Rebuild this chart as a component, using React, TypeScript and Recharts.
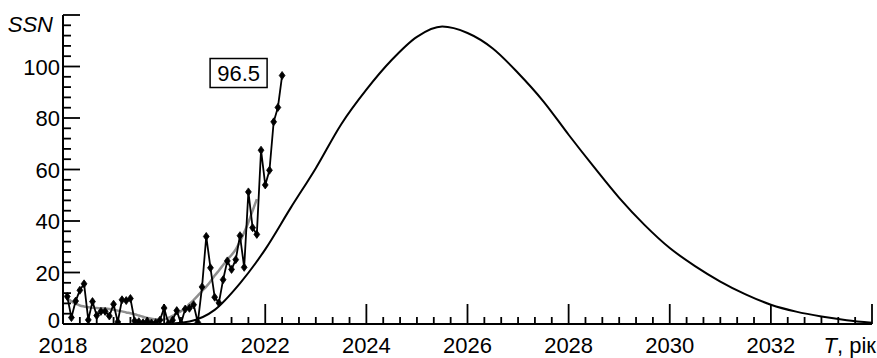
import React from 'react';
import { LineChart, Line, XAxis, YAxis, ReferenceDot } from 'recharts';

// Monthly observed sunspot number, starting February 2018
const observedStartYear = 2018;
const observedStartMonth = 2;
const observedValues = [
  10.7, 2.5, 8.9, 13.1, 15.6, 1.6, 8.7, 3.3, 4.9, 4.9, 3.1,
  7.7, 0.8, 9.4, 9.1, 9.9, 1.2, 0.9, 0.5, 1.1, 0.4, 0.5, 1.5,
  6.2, 0.2, 1.5, 5.2, 0.2, 5.8, 6.1, 7.5, 0.6, 14.4, 34.0, 21.8,
  10.4, 8.2, 17.2, 24.5, 21.2, 25.0, 34.3, 22.0, 51.3, 37.4, 34.8, 67.5,
  54.0, 59.7, 78.5, 84.1, 96.5,
];

// Smoothed sunspot number (grey), starting February 2018
const smoothedValues = [
  10, 8.8, 7.9, 7.2, 6.8, 6.5, 6.3, 6.2, 6.1, 6.0, 5.8,
  5.5, 5.2, 4.9, 4.5, 4.2, 3.8, 3.3, 2.8, 2.3, 2.0, 1.8, 1.6,
  1.8, 2.4, 3.2, 4.1, 5.0, 6.0, 7.8, 9.3, 11.0, 12.8, 14.5, 16.5,
  18.8, 20.8, 22.9, 25.0, 26.8, 29.0, 32.0, 35.5, 39.5, 44.0, 48.5,
];

// Forecast curve for cycle 25
const forecastYears = [
  2020.0, 2020.5, 2021.0, 2021.5, 2022.0, 2022.5, 2023.0, 2023.5, 2024.0, 2024.5,
  2025.0, 2025.5, 2026.0, 2026.5, 2027.0, 2027.5, 2028.0, 2028.5, 2029.0, 2029.5,
  2030.0, 2030.5, 2031.0, 2031.5, 2032.0, 2032.5, 2033.0, 2033.5, 2034.0,
];
const forecastValues = [
  0, 1.0, 5.5, 15.8, 29, 45, 60.5, 77.5, 91, 102.5,
  111.5, 115.5, 113, 107, 97.5, 86.5, 73.5, 61, 49, 38.5,
  29.5, 22.5, 16.5, 11.5, 7.5, 4.8, 2.9, 1.5, 0.5,
];

const lastValueLabel = '96.5';
const xMajorYears = [2018, 2020, 2022, 2024, 2026, 2028, 2030, 2032, 2034];
const yMajor = [0, 20, 40, 60, 80, 100, 120];

const monthToYear = (i: number) =>
  observedStartYear + (observedStartMonth - 1 + i) / 12;

const observedData = observedValues.map((v, i) => ({ x: monthToYear(i), y: v }));
const smoothedData = smoothedValues.map((v, i) => ({ x: monthToYear(i), y: v }));
const forecastData = forecastYears.map((t, i) => ({ x: t, y: forecastValues[i] }));

const xTicks: number[] = [];
for (let k = 0; k <= 48; k++) xTicks.push(2018 + k / 3);
const yTicks: number[] = [];
for (let v = 0; v <= 120; v += 4) yTicks.push(v);

const FONT = '"Liberation Sans", Arial, sans-serif';
const FS = 22;

const XTick = (props: any) => {
  const { x, y, payload } = props;
  const v = payload.value as number;
  const r = Math.round(v);
  const major = Math.abs(v - r) < 1e-6 && xMajorYears.includes(r);
  const len = major ? 20 : 7;
  let label: React.ReactNode = null;
  if (major) {
    if (r === 2034) {
      label = (
        <text x={x + 4} y={y + 29} textAnchor="end" fontSize={FS} fontFamily={FONT} fill="#000">
          <tspan fontStyle="italic">T</tspan>, рік
        </text>
      );
    } else {
      label = (
        <text x={x} y={y + 29} textAnchor="middle" fontSize={FS} fontFamily={FONT} fill="#000">
          {r}
        </text>
      );
    }
  }
  return (
    <g>
      <line x1={x} x2={x} y1={y} y2={y - len} stroke="#000" strokeWidth={1.8} />
      {label}
    </g>
  );
};

const YTick = (props: any) => {
  const { x, y, payload } = props;
  const v = payload.value as number;
  const major = yMajor.includes(v);
  const len = major ? 17 : 8;
  let label: React.ReactNode = null;
  if (major) {
    if (v === 120) {
      label = (
        <text x={x - 10} y={y + 17} textAnchor="end" fontSize={FS} fontStyle="italic" fontFamily={FONT} fill="#000">
          SSN
        </text>
      );
    } else {
      label = (
        <text x={x - 3} y={v === 0 ? y + 4 : y + 8} textAnchor="end" fontSize={FS} fontFamily={FONT} fill="#000">
          {v}
        </text>
      );
    }
  }
  return (
    <g>
      <line x1={x} x2={x + len} y1={y} y2={y} stroke="#000" strokeWidth={1.8} />
      {label}
    </g>
  );
};

const Diamond = (props: any) => {
  const { cx, cy } = props;
  if (cx == null || cy == null) return <g />;
  return (
    <path
      d={`M${cx},${cy - 4} L${cx + 2.9},${cy} L${cx},${cy + 4} L${cx - 2.9},${cy} Z`}
      fill="#000"
      stroke="#000"
      strokeWidth={0.8}
    />
  );
};

const BoxShape = (props: any) => {
  const { cx, cy } = props;
  if (cx == null || cy == null) return <g />;
  return (
    <g>
      <rect x={cx - 72} y={cy - 17} width={57} height={29} fill="#fff" stroke="#000" strokeWidth={1.5} />
      <text x={cx - 43.5} y={cy + 5} textAnchor="middle" fontSize={FS} fontFamily={FONT} fill="#000">
        {lastValueLabel}
      </text>
    </g>
  );
};

export default function App() {
  return (
    <div style={{ position: 'absolute', left: 0, top: 0, width: 877, height: 358, background: '#fff' }}>
      <LineChart width={877} height={358} margin={{ top: 15, right: 5, bottom: 0, left: 0 }}>
        <XAxis
          type="number"
          dataKey="x"
          domain={[2018, 2034]}
          ticks={xTicks}
          interval={0}
          allowDataOverflow
          height={34}
          tickSize={0}
          tickMargin={0}
          tickLine={false}
          axisLine={{ stroke: '#000', strokeWidth: 2 }}
          tick={<XTick />}
        />
        <YAxis
          type="number"
          dataKey="y"
          domain={[0, 120]}
          ticks={yTicks}
          interval={0}
          allowDataOverflow
          width={63}
          tickSize={0}
          tickMargin={0}
          tickLine={false}
          axisLine={{ stroke: '#000', strokeWidth: 2 }}
          tick={<YTick />}
        />
        <Line
          data={forecastData}
          dataKey="y"
          type="monotone"
          stroke="#000"
          strokeWidth={2}
          dot={false}
          isAnimationActive={false}
        />
        <Line
          data={smoothedData}
          dataKey="y"
          type="monotone"
          stroke="#8f8f8f"
          strokeWidth={2.5}
          dot={false}
          isAnimationActive={false}
        />
        <Line
          data={observedData}
          dataKey="y"
          type="linear"
          stroke="#000"
          strokeWidth={1.8}
          dot={(p: any) => <Diamond key={`d-${p.index}`} {...p} />}
          isAnimationActive={false}
        />
        <ReferenceDot
          x={monthToYear(observedValues.length - 1)}
          y={observedValues[observedValues.length - 1]}
          r={0}
          ifOverflow="visible"
          shape={(p: any) => <BoxShape {...p} />}
        />
      </LineChart>
    </div>
  );
}
